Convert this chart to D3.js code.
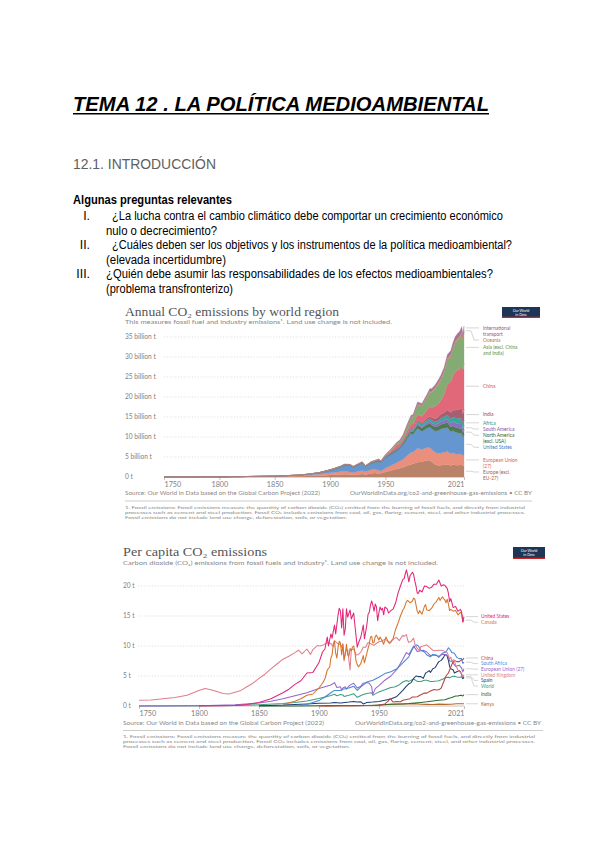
<!DOCTYPE html>
<html><head><meta charset="utf-8">
<script src="https://cdn.jsdelivr.net/npm/d3@7"></script>
<style>
html,body{margin:0;padding:0;background:#fff;}
</style></head><body>
<svg id="page" width="600" height="848" xmlns="http://www.w3.org/2000/svg"></svg>
<script>
// ---------------- DATA: chart 1 (Annual CO2 emissions by world region, billion t) ----------------
const regionYears = [1750,1800,1850,1870,1880,1890,1900,1905,1910,1913, 1918,1921,1925,1929,1932,1937,1940,1944,1946, 1950,1955,1960,1963,1966,1970,1973,1975, 1979,1983,1987,1990,1992,1995,1998,2000, 2003,2006,2009,2011,2013,2015,2017,2019,2020,2021];
const europeExclEU = [0.009,0.03,0.12,0.2,0.27,0.34,0.5,0.55,0.6,0.68, 0.6,0.5,0.62,0.75,0.65,0.9,1.0,0.9,0.95, 1.25,1.6,2.0,2.2,2.45,2.85,3.1,3.3, 3.7,3.8,4.1,4.2,3.8,3.1,2.9,2.95, 3.05,3.15,2.9,3.1,3.0,2.95,3.0,3.0,2.8,2.9];
const europeanUnion = [0,0.003,0.07,0.16,0.24,0.35,0.55,0.62,0.75,0.85, 0.65,0.6,0.75,0.9,0.72,0.92,0.95,0.8,0.55, 0.95,1.25,1.55,1.8,2.0,2.6,3.0,2.9, 3.5,3.1,3.2,3.2,3.05,3.0,3.05,3.05, 3.15,3.2,2.9,2.95,2.8,2.75,2.8,2.7,2.45,2.75];
const unitedStates = [0,0.0025,0.02,0.09,0.17,0.35,0.66,0.95,1.2,1.4, 1.6,1.3,1.55,1.75,1.15,1.55,1.65,2.2,2.05, 2.5,2.75,2.9,3.1,3.5,4.3,4.75,4.5, 5.0,4.5,4.85,5.1,5.15,5.4,5.7,6.0, 6.0,6.05,5.5,5.55,5.45,5.35,5.2,5.25,4.7,5.0];
const northAmericaExclUSA = [0,0,0.002,0.006,0.012,0.025,0.04,0.06,0.08,0.1, 0.11,0.09,0.1,0.12,0.08,0.1,0.12,0.15,0.15, 0.2,0.25,0.3,0.34,0.4,0.52,0.6,0.64, 0.8,0.82,0.88,0.95,0.97,1.0,1.08,1.15, 1.18,1.25,1.18,1.22,1.22,1.2,1.18,1.2,1.08,1.12];
const southAmerica = [0,0,0,0.001,0.002,0.004,0.008,0.01,0.015,0.02, 0.02,0.025,0.03,0.04,0.03,0.045,0.05,0.055,0.06, 0.08,0.11,0.14,0.16,0.18,0.22,0.26,0.28, 0.45,0.42,0.48,0.52,0.56,0.63,0.72,0.78, 0.8,0.88,0.97,1.05,1.12,1.15,1.1,1.1,1.0,1.08];
const africa = [0,0,0,0,0.001,0.002,0.005,0.008,0.012,0.015, 0.02,0.022,0.025,0.03,0.028,0.035,0.04,0.05,0.05, 0.09,0.12,0.14,0.16,0.19,0.25,0.3,0.33, 0.45,0.55,0.6,0.65,0.67,0.7,0.75,0.8, 0.88,0.98,1.1,1.12,1.2,1.3,1.38,1.4,1.3,1.4];
const india = [0,0,0,0.001,0.004,0.008,0.015,0.02,0.03,0.035, 0.04,0.04,0.045,0.05,0.045,0.06,0.07,0.08,0.07, 0.07,0.09,0.11,0.14,0.16,0.18,0.2,0.23, 0.29,0.36,0.46,0.58,0.65,0.75,0.88,0.98, 1.07,1.25,1.55,1.7,1.9,2.1,2.3,2.6,2.45,2.7];
const china = [0,0,0,0,0,0.001,0.002,0.003,0.005,0.01, 0.015,0.02,0.025,0.03,0.035,0.04,0.05,0.07,0.05, 0.08,0.28,0.78,0.44,0.55,0.8,1.0,1.15, 1.5,1.6,2.0,2.4,2.55,3.2,3.3,3.4, 4.5,6.5,7.7,8.6,9.6,9.9,10.0,10.7,10.9,11.5];
const asiaExcl = [0,0,0.0005,0.002,0.004,0.01,0.02,0.03,0.04,0.05, 0.07,0.06,0.08,0.1,0.09,0.14,0.16,0.12,0.06, 0.2,0.3,0.4,0.55,0.75,1.2,1.6,1.7, 2.4,2.6,3.1,3.6,3.8,4.3,4.9,5.1, 5.5,6.0,6.3,6.7,7.2,7.5,7.7,7.9,7.6,7.9];
const oceania = [0,0,0,0.001,0.003,0.005,0.008,0.01,0.012,0.014, 0.015,0.015,0.018,0.02,0.018,0.022,0.025,0.028,0.028, 0.04,0.05,0.06,0.07,0.08,0.11,0.13,0.14, 0.17,0.19,0.22,0.29,0.3,0.32,0.34,0.38, 0.39,0.42,0.44,0.45,0.45,0.44,0.46,0.45,0.43,0.42];
const intlTransport = [0,0,0,0,0,0,0,0,0,0, 0,0,0,0,0,0,0,0,0, 0.18,0.22,0.26,0.3,0.34,0.4,0.45,0.45, 0.5,0.45,0.48,0.55,0.6,0.65,0.75,0.8, 0.85,0.95,1.05,1.1,1.1,1.2,1.25,1.3,0.9,1.0];
const regionNames = ["Europe (excl. EU-27)","European Union (27)","United States","North America (excl. USA)","South America","Africa","India","China","Asia (excl. China and India)","Oceania","International transport"];
const regionLabels = [["Europe (excl.","EU-27)"],["European Union","(27)"],["United States"],["North America","(excl. USA)"],["South America"],["Africa"],["India"],["China"],["Asia (excl. China","and India)"],["Oceania"],["International","transport"]];
const chart1YTicks = [0,5,10,15,20,25,30,35];
const chart1XTicks = [1750,1800,1850,1900,1950,2021];

// ---------------- DATA: chart 2 (Per capita CO2 emissions, t) ----------------
const usYears = [1800,1820,1830,1840,1850,1860,1870,1875,1880,1885,1890,1895,1900,1903,1905,1907,1908,1910,1911,1913,1914,1916,1917,1918,1919,1920,1921,1922,1923,1924,1926,1927,1929,1930,1932,1933,1935,1937,1938,1940,1941,1942,1943,1944,1945,1946,1947,1948,1949,1950,1951,1952,1953,1954,1955,1957,1958,1960,1962,1964,1966,1968,1970,1971,1972,1973,1974,1975,1976,1977,1978,1979,1980,1981,1982,1983,1984,1986,1988,1990,1992,1994,1996,1998,2000,2002,2004,2005,2007,2008,2009,2010,2012,2014,2016,2018,2019,2020,2021];
const usValues = [0.02,0.05,0.1,0.25,0.6,1.2,2.2,2.8,3.6,4.2,5.5,5.6,7.2,9.0,9.5,11.5,10.0,12.0,11.3,13.5,12.0,15.2,16.3,15.8,13.0,16.2,11.8,12.8,16.2,14.8,16.0,14.5,15.5,13.5,9.8,10.5,11.5,13.5,11.2,13.5,15.3,15.6,16.8,17.5,16.8,15.8,17.0,16.5,14.2,15.5,16.5,16.0,16.3,15.2,16.5,16.2,15.5,15.9,16.2,17.2,18.8,20.0,21.1,21.2,22.0,22.7,21.8,20.7,21.7,22.0,22.3,21.9,20.8,20.0,18.8,18.8,19.3,19.0,20.0,19.9,19.6,19.8,20.3,20.3,21.0,20.0,20.2,20.1,19.6,18.8,17.4,17.9,16.4,16.6,15.8,16.1,15.7,14.0,14.9];
const caYears = [1870,1880,1885,1890,1895,1900,1903,1905,1907,1909,1910,1911,1912,1913,1914,1915,1916,1917,1918,1919,1920,1921,1922,1923,1924,1925,1926,1927,1928,1929,1930,1931,1932,1933,1935,1937,1938,1940,1941,1942,1943,1944,1945,1946,1947,1948,1950,1951,1953,1954,1956,1958,1960,1962,1964,1966,1968,1970,1971,1973,1974,1976,1978,1979,1980,1981,1982,1983,1984,1986,1988,1989,1990,1992,1994,1996,1998,2000,2001,2003,2004,2005,2006,2007,2008,2009,2010,2012,2014,2016,2018,2019,2020,2021];
const caValues = [0.3,0.8,1.2,1.8,2.0,3.0,3.8,4.5,6.0,6.5,8.0,8.5,10.3,10.8,8.8,8.0,9.8,10.8,10.5,8.5,10.2,7.8,8.6,10.3,8.5,8.3,9.6,9.2,9.8,10.0,9.0,7.5,6.9,6.5,7.1,8.4,7.2,8.8,9.6,10.3,11.5,11.6,10.5,10.6,11.6,11.8,11.0,11.5,10.8,10.3,11.5,10.6,10.7,11.3,12.8,13.8,15.0,16.0,16.3,17.4,17.6,17.2,17.5,18.0,17.8,16.8,15.8,15.4,15.9,15.3,16.6,16.9,16.0,15.9,16.3,17.0,17.4,18.1,17.6,18.2,17.9,17.7,17.2,17.8,17.0,15.9,16.1,15.8,15.9,15.2,15.6,15.4,14.0,14.3];
const ukYears = [1750,1760,1770,1780,1790,1800,1805,1810,1815,1820,1825,1830,1835,1840,1845,1850,1855,1860,1865,1870,1875,1880,1883,1886,1890,1893,1895,1899,1900,1903,1907,1910,1912,1913,1915,1918,1919,1920,1921,1922,1924,1926,1927,1929,1931,1933,1935,1937,1939,1941,1944,1946,1947,1950,1952,1955,1957,1959,1961,1963,1965,1967,1970,1971,1973,1974,1975,1977,1979,1980,1982,1984,1985,1987,1990,1992,1995,1997,2000,2003,2005,2007,2009,2010,2011,2012,2013,2014,2016,2018,2019,2020,2021];
const ukValues = [0.95,1.0,1.2,1.4,1.8,2.6,2.9,2.7,2.4,2.1,2.0,2.3,2.6,3.2,3.8,4.6,5.3,6.2,7.0,7.8,8.3,8.9,9.3,8.7,9.5,8.6,9.4,10.1,10.0,10.1,10.6,10.4,9.9,10.9,10.5,10.2,9.8,10.4,7.5,9.0,9.4,6.0,9.4,9.5,8.5,8.6,9.0,9.8,9.8,10.6,10.3,10.1,10.3,10.7,10.8,11.1,10.9,10.4,10.9,11.3,11.4,10.9,11.8,11.6,11.9,11.0,10.6,10.8,11.3,10.3,9.6,9.2,9.9,10.0,10.2,9.8,9.3,9.2,9.3,9.3,9.1,8.9,7.9,8.1,7.4,7.7,7.6,6.8,6.0,5.6,5.4,4.8,5.2];
const cnYears = [1900,1920,1930,1940,1945,1950,1955,1958,1959,1960,1961,1962,1965,1968,1970,1973,1976,1978,1980,1982,1985,1988,1990,1993,1996,1998,2000,2002,2004,2006,2008,2010,2011,2013,2015,2017,2019,2020,2021];
const cnValues = [0.01,0.03,0.05,0.1,0.08,0.14,0.35,0.85,1.2,1.2,0.85,0.65,0.74,0.7,0.95,1.1,1.22,1.5,1.5,1.55,1.87,2.15,2.15,2.5,2.75,2.65,2.7,3.0,4.0,5.0,5.5,6.5,7.0,7.6,7.4,7.4,7.7,7.7,8.0];
const zaYears = [1884,1890,1895,1900,1905,1910,1913,1918,1920,1925,1929,1932,1935,1940,1945,1950,1955,1960,1965,1970,1975,1978,1981,1983,1985,1988,1990,1993,1995,1998,2000,2003,2006,2008,2009,2011,2013,2015,2017,2019,2020,2021];
const zaValues = [0.1,0.3,0.6,0.9,1.5,2.2,2.6,2.6,2.8,3.0,3.3,2.6,3.2,4.0,4.3,4.8,5.4,5.7,6.2,7.2,8.2,9.5,10.2,10.0,9.3,9.0,8.5,8.2,8.6,8.5,8.1,8.8,9.0,9.7,9.5,8.9,8.8,8.1,7.9,7.9,7.1,7.3];
const euYears = [1750,1800,1830,1850,1860,1870,1880,1890,1900,1905,1910,1913,1915,1918,1919,1920,1922,1923,1925,1927,1929,1932,1935,1937,1940,1942,1944,1945,1946,1947,1950,1955,1960,1965,1970,1973,1975,1979,1982,1985,1987,1990,1993,1996,2000,2003,2006,2008,2009,2011,2014,2017,2019,2020,2021];
const euValues = [0.01,0.05,0.2,0.5,0.8,1.2,1.7,2.2,2.9,3.2,3.5,3.9,3.1,3.2,2.6,3.0,3.2,2.8,3.3,3.6,3.8,3.0,3.3,3.8,3.9,3.8,3.2,1.9,2.4,2.9,3.4,4.3,5.0,6.1,7.8,8.9,8.6,10.0,9.1,9.2,9.3,9.0,8.4,8.5,8.3,8.6,8.6,8.2,7.5,7.4,6.6,6.8,6.3,5.7,6.2];
const esYears = [1850,1860,1870,1880,1890,1900,1910,1913,1918,1920,1925,1929,1932,1935,1936,1937,1939,1940,1945,1950,1955,1960,1965,1970,1973,1975,1977,1979,1981,1983,1985,1987,1989,1990,1992,1993,1995,1997,1999,2000,2002,2004,2005,2007,2008,2009,2010,2012,2013,2015,2017,2018,2019,2020,2021];
const esValues = [0.05,0.1,0.15,0.25,0.35,0.45,0.5,0.6,0.5,0.55,0.65,0.75,0.65,0.7,0.5,0.35,0.5,0.6,0.65,0.75,0.95,1.15,1.6,2.6,3.3,3.7,3.9,4.6,5.0,4.9,4.9,4.6,5.5,5.6,5.9,5.6,6.2,6.4,7.1,7.4,7.6,8.1,8.6,8.3,7.6,6.6,6.2,6.0,5.5,5.7,5.9,5.7,5.3,4.6,4.9];
const worldYears = [1750,1800,1830,1850,1870,1880,1890,1900,1905,1910,1913,1915,1918,1920,1921,1925,1929,1932,1937,1940,1944,1945,1946,1950,1955,1960,1963,1966,1970,1973,1975,1979,1982,1985,1988,1990,1993,1995,1998,2000,2003,2006,2008,2009,2011,2013,2015,2017,2019,2020,2021];
const worldValues = [0.01,0.03,0.07,0.2,0.4,0.6,0.85,1.25,1.5,1.75,1.95,1.7,1.9,1.85,1.6,1.8,2.05,1.45,1.9,2.1,2.2,1.8,1.9,2.35,2.7,3.1,3.15,3.4,4.0,4.25,4.1,4.5,4.1,4.1,4.3,4.3,4.1,4.1,4.15,4.2,4.45,4.75,4.8,4.7,4.9,4.95,4.85,4.8,4.85,4.55,4.7];
const inYears = [1850,1880,1900,1913,1920,1930,1945,1950,1955,1960,1965,1970,1975,1980,1985,1990,1995,2000,2005,2008,2010,2012,2014,2016,2018,2019,2020,2021];
const inValues = [0.0,0.01,0.05,0.07,0.08,0.09,0.1,0.18,0.22,0.28,0.32,0.35,0.4,0.48,0.58,0.7,0.85,0.95,1.05,1.25,1.38,1.52,1.65,1.68,1.8,1.77,1.67,1.89];
const keYears = [1905,1920,1930,1940,1950,1955,1960,1965,1970,1975,1980,1985,1990,1995,2000,2005,2010,2015,2019,2020,2021];
const keValues = [0.0,0.03,0.05,0.07,0.15,0.25,0.3,0.3,0.34,0.35,0.39,0.28,0.27,0.25,0.31,0.27,0.3,0.36,0.39,0.36,0.37];
const countryNames = ["United States","Canada","United Kingdom","China","South Africa","European Union (27)","Spain","World","India","Kenya"];
const chart2YTicks = [0,5,10,15,20];
const chart2XTicks = [1750,1800,1850,1900,1950,2021];

// ---------------- DOCUMENT TEXT ----------------
const docTitle = "TEMA 12 . LA POLÍTICA MEDIOAMBIENTAL";
const sectionTitle = "12.1. INTRODUCCIÓN";
const questionsHeading = "Algunas preguntas relevantes";
const questionNums = ["I.","II.","III."];
const questionLines = [
  ["¿La lucha contra el cambio climático debe comportar un crecimiento económico","nulo o decrecimiento?"],
  ["¿Cuáles deben ser los objetivos y los instrumentos de la política medioambiental?","(elevada incertidumbre)"],
  ["¿Quién debe asumir las responsabilidades de los efectos medioambientales?","(problema transfronterizo)"]
];
const footnoteLines = [
  "1. Fossil emissions: Fossil emissions measure the quantity of carbon dioxide (CO₂) emitted from the burning of fossil fuels, and directly from industrial",
  "processes such as cement and steel production. Fossil CO₂ includes emissions from coal, oil, gas, flaring, cement, steel, and other industrial processes.",
  "Fossil emissions do not include land use change, deforestation, soils, or vegetation."
];

// ---------------- DRAWING ----------------
const DOC = '"Liberation Sans", Arial, sans-serif';
const UI = 'Lato, "Liberation Sans", sans-serif';
const SERIF = '"Liberation Serif", "DejaVu Serif", serif';
const svg = d3.select("#page");
svg.append("rect").attr("width",600).attr("height",848).attr("fill","#fff");

function addText(parent, x, y, s, o = {}) {
  const t = parent.append("text").attr("x", x).attr("y", y).text(s)
    .attr("font-family", o.family || DOC).attr("font-size", o.size || 12)
    .attr("fill", o.fill || "#000");
  if (o.weight) t.attr("font-weight", o.weight);
  if (o.style) t.attr("font-style", o.style);
  if (o.anchor) t.attr("text-anchor", o.anchor);
  if (o.width) t.attr("textLength", o.width).attr("lengthAdjust", "spacingAndGlyphs");
  return t;
}

// Document header
addText(svg, 73, 111, docTitle, {size: 20, weight: "bold", style: "italic", width: 416});
svg.append("rect").attr("x", 73).attr("y", 113).attr("width", 416).attr("height", 1.5).attr("fill", "#000");
addText(svg, 73, 169, sectionTitle, {size: 15, fill: "#606060", width: 143});
addText(svg, 73, 204, questionsHeading, {size: 12, weight: "bold", width: 159});
const qBase = [220, 249, 278];
const qFirstX = [112, 112, 106];
const qFirstW = [391, 400, 387];
const qSecondW = [111, 120, 127];
questionNums.forEach((n, i) => {
  addText(svg, 90, qBase[i], n, {size: 12.3, anchor: "end"});
  addText(svg, qFirstX[i], qBase[i], questionLines[i][0], {size: 12.3, width: qFirstW[i]});
  addText(svg, 106, qBase[i] + 14.5, questionLines[i][1], {size: 12.3, width: qSecondW[i]});
});

function owidLogo(x, y, w, h) {
  const g = svg.append("g");
  g.append("rect").attr("x", x).attr("y", y).attr("width", w).attr("height", h).attr("fill", "#1d3557");
  g.append("rect").attr("x", x).attr("y", y + h - 1.3).attr("width", w).attr("height", 1.3).attr("fill", "#ce261e");
  addText(g, x + w / 2, y + h * 0.42, "Our World", {size: 3.6, fill: "#fff", anchor: "middle", family: UI});
  addText(g, x + w / 2, y + h * 0.78, "in Data", {size: 3.6, fill: "#fff", anchor: "middle", family: UI});
}

function drawAxes(g, x, y, yTicks, yFmt, labelX, gridX0, xTicks) {
  const [x0, x1] = x.range();
  g.selectAll(".grid").data(yTicks.filter(d => d > 0)).join("line")
    .attr("x1", gridX0).attr("x2", x1).attr("y1", d => y(d)).attr("y2", d => y(d))
    .attr("stroke", "#cfcfcf").attr("stroke-width", 0.6).attr("stroke-dasharray", "1.2,1.6");
  g.append("line").attr("x1", x0).attr("x2", x1).attr("y1", y(0)).attr("y2", y(0))
    .attr("stroke", "#aaa").attr("stroke-width", 0.7);
  g.selectAll(".ylab").data(yTicks).join("text")
    .attr("x", labelX).attr("y", d => y(d) + 2.2).text(yFmt)
    .attr("font-family", UI).attr("font-size", 6.6).attr("fill", "#808080");
  const ax = g.append("g").attr("transform", `translate(0,${y(0)})`)
    .call(d3.axisBottom(x).tickValues(xTicks).tickFormat(d3.format("d")).tickSize(3).tickPadding(1.5));
  ax.select(".domain").remove();
  ax.selectAll(".tick line").attr("stroke", "#999").attr("stroke-width", 0.6);
  ax.selectAll(".tick text").attr("font-family", UI).attr("font-size", 7.2).attr("fill", "#808080")
    .attr("text-anchor", (d, i) => i === 0 ? "start" : (i === xTicks.length - 1 ? "end" : "middle"));
}

function layoutLabels(items, lineH, gap) {
  items.sort((a, b) => a.target - b.target);
  let prevEnd = -Infinity;
  items.forEach(it => {
    it.pos = Math.max(it.target, prevEnd);
    prevEnd = it.pos + it.lines.length * lineH + gap;
  });
  return items;
}

// ---------------- CHART 1 ----------------
const c1 = svg.append("g");
addText(c1, 125, 315.5, "Annual CO₂ emissions by world region", {size: 12.5, family: SERIF, fill: "#555", width: 214});
addText(c1, 125, 323.5, "This measures fossil fuel and industry emissions¹. Land use change is not included.", {size: 5.8, family: UI, fill: "#888", width: 267});
owidLogo(502, 307, 38, 11);

const x1 = d3.scaleLinear().domain([1750, 2021]).range([164, 464]);
const y1 = d3.scaleLinear().domain([0, 35]).range([477, 337]);
drawAxes(c1, x1, y1, chart1YTicks, d => d === 0 ? "0 t" : d + " billion t", 125, 164, chart1XTicks);

const regionSeries = [europeExclEU, europeanUnion, unitedStates, northAmericaExclUSA, southAmerica, africa, india, china, asiaExcl, oceania, intlTransport];
const regionFill = ["#b9836a","#ea8f7c","#6596d0","#4d7a4f","#8d6fbf","#3aa5a1","#a65e73","#e06878","#84ab74","#c98e58","#a8729a"];
const regionText = ["#a8603a","#dd5a44","#3f78c4","#2f5e31","#7a52b0","#21918c","#8f4458","#d24a5c","#5a8f4c","#c0702e","#a14f7f"];
const rows = regionYears.map((yr, i) => {
  const r = {year: yr};
  regionNames.forEach((n, k) => r[n] = regionSeries[k][i]);
  return r;
});
const stacked = d3.stack().keys(regionNames)(rows);
const area1 = d3.area().x(d => x1(d.data.year)).y0(d => y1(d[0])).y1(d => y1(d[1]));
c1.selectAll(".layer").data(stacked).join("path")
  .attr("d", area1).attr("fill", (d, i) => regionFill[i]).attr("stroke", (d, i) => regionFill[i]).attr("stroke-width", 0.3);

const last1 = rows.length - 1;
const LH1 = 5.9;
const items1 = layoutLabels(stacked.map((s, i) => ({
  i, target: y1((s[last1][0] + s[last1][1]) / 2), lines: regionLabels[i]
})), LH1, 0.3);
items1.forEach(it => {
  c1.append("path").attr("d", `M466,${it.target}L471,${it.target}L474,${it.pos}L479,${it.pos}`)
    .attr("fill", "none").attr("stroke", "#bbb").attr("stroke-width", 0.6);
  const t = c1.append("text").attr("x", 483).attr("y", it.pos + 1.7)
    .attr("font-family", UI).attr("font-size", 4.9).attr("fill", regionText[it.i]);
  it.lines.forEach((ln, j) => t.append("tspan").attr("x", 483).attr("dy", j === 0 ? 0 : LH1).text(ln));
});

addText(c1, 125, 495, "Source: Our World in Data based on the Global Carbon Project (2022)", {size: 5.6, family: UI, fill: "#888", width: 195});
addText(c1, 350, 495, "OurWorldInData.org/co2-and-greenhouse-gas-emissions • CC BY", {size: 5.6, family: UI, fill: "#888", width: 182});
c1.append("rect").attr("x", 125).attr("y", 500.5).attr("width", 407).attr("height", 1).attr("fill", "#ccc");
const fw1 = [400, 400, 222];
footnoteLines.forEach((ln, i) => addText(c1, 125, 509 + i * 5, ln, {size: 4.3, family: UI, fill: "#888", width: fw1[i]}));

// ---------------- CHART 2 ----------------
const c2 = svg.append("g");
addText(c2, 123, 555.5, "Per capita CO₂ emissions", {size: 12, family: SERIF, fill: "#555", width: 144});
addText(c2, 123, 565, "Carbon dioxide (CO₂) emissions from fossil fuels and industry¹. Land use change is not included.", {size: 5.8, family: UI, fill: "#888", width: 315});
owidLogo(513, 547, 32, 12);

const x2 = d3.scaleLinear().domain([1750, 2021]).range([139, 464]);
const y2 = d3.scaleLinear().domain([0, 20]).range([706, 586]);
drawAxes(c2, x2, y2, chart2YTicks, d => d + " t", 123, 138, chart2XTicks);

const countrySeries = [
  [usYears, usValues], [caYears, caValues], [ukYears, ukValues], [cnYears, cnValues], [zaYears, zaValues],
  [euYears, euValues], [esYears, esValues], [worldYears, worldValues], [inYears, inValues], [keYears, keValues]
];
const countryColor = ["#e2267a","#d5742c","#e07e8c","#b0483e","#4a86d6","#9566cc","#1f3f72","#3e9e80","#2d6b2e","#b5682a"];
const line2 = d3.line().x(d => x2(d[0])).y(d => y2(d[1]));
countrySeries.map((s, i) => i).reverse().forEach(i => {
  const [ys, vs] = countrySeries[i];
  c2.append("path").datum(ys.map((yr, k) => [yr, vs[k]]))
    .attr("d", line2).attr("fill", "none").attr("stroke", countryColor[i])
    .attr("stroke-width", 1.05).attr("stroke-linejoin", "round");
});
const LH2 = 5.6;
const items2 = layoutLabels(countrySeries.map((s, i) => ({
  i, target: y2(s[1][s[1].length - 1]), lines: [countryNames[i]]
})), LH2, 0);
items2.forEach(it => {
  c2.append("path").attr("d", `M466,${it.target}L471,${it.target}L474,${it.pos}L478,${it.pos}`)
    .attr("fill", "none").attr("stroke", "#bbb").attr("stroke-width", 0.6);
  addText(c2, 481, it.pos + 1.8, it.lines[0], {size: 4.8, family: UI, fill: countryColor[it.i]});
});

addText(c2, 123, 725, "Source: Our World in Data based on the Global Carbon Project (2022)", {size: 5.6, family: UI, fill: "#888", width: 201});
addText(c2, 355, 725, "OurWorldInData.org/co2-and-greenhouse-gas-emissions • CC BY", {size: 5.6, family: UI, fill: "#888", width: 186});
c2.append("rect").attr("x", 123).attr("y", 730).attr("width", 420).attr("height", 1).attr("fill", "#ccc");
const fw2 = [412, 412, 227];
footnoteLines.forEach((ln, i) => addText(c2, 123, 737.5 + i * 5, ln, {size: 4.3, family: UI, fill: "#888", width: fw2[i]}));
</script>
</body></html>
